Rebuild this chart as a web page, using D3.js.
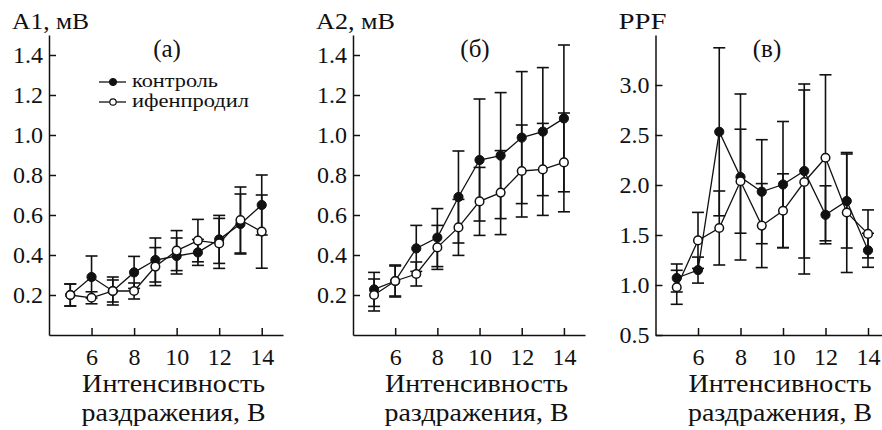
<!DOCTYPE html>
<html>
<head>
<meta charset="utf-8">
<script src="https://cdn.jsdelivr.net/npm/d3@7"></script>
</head>
<body style="margin:0;background:#fff">
<svg id="chart" width="882" height="430" style="display:block"></svg>
<script>
// ---- data ----
const stimulus = [5, 6, 7, 8, 9, 10, 11, 12, 13, 14];
const xTickValues = [6, 8, 10, 12, 14];

const a1Control    = [0.20, 0.29, 0.22, 0.313, 0.375, 0.395, 0.413, 0.478, 0.555, 0.65];
const a1ControlErr = [0.055, 0.105, 0.07, 0.08, 0.11, 0.09, 0.065, 0.12, 0.15, 0.15];
const a1Ifen       = [0.20, 0.186, 0.22, 0.22, 0.342, 0.422, 0.472, 0.458, 0.575, 0.517];
const a1IfenErr    = [0.055, 0.03, 0.055, 0.04, 0.095, 0.1, 0.106, 0.125, 0.165, 0.183];

const a2Control    = [0.228, 0.27, 0.433, 0.487, 0.69, 0.875, 0.897, 0.987, 1.017, 1.083];
const a2ControlErr = [0.085, 0.08, 0.115, 0.145, 0.23, 0.305, 0.315, 0.33, 0.32, 0.367];
const a2Ifen       = [0.20, 0.27, 0.305, 0.438, 0.538, 0.668, 0.712, 0.82, 0.828, 0.863];
const a2IfenErr    = [0.08, 0.075, 0.06, 0.11, 0.14, 0.17, 0.21, 0.23, 0.23, 0.247];

const ppfControl    = [1.07, 1.149, 2.532, 2.08, 1.933, 2.005, 2.14, 1.702, 1.84, 1.347];
const ppfControlErr = [0.14, 0.13, 0.84, 0.83, 0.52, 0.63, 0.87, 0.29, 0.47, 0.17];
const ppfIfen       = [0.977, 1.446, 1.57, 2.038, 1.594, 1.742, 2.03, 2.272, 1.725, 1.511];
const ppfIfenErr    = [0.17, 0.28, 0.37, 0.52, 0.42, 0.37, 0.92, 0.83, 0.6, 0.24];

const amplitudeTicks = [0.2, 0.4, 0.6, 0.8, 1.0, 1.2, 1.4];
const ppfTicks = [0.5, 1.0, 1.5, 2.0, 2.5, 3.0];

const seriesNames = ["контроль", "ифенпродил"];
const xTitleLines = ["Интенсивность", "раздражения, В"];

// ---- layout ----
const SERIF = '"Liberation Serif", Tinos, "Times New Roman", serif';
const svg = d3.select("#chart");
const yTop = 35, yBottom = 335;
const FONT = 24;

function label(g, x, y, txt, size, opts = {}) {
  const t = g.append("text").attr("x", x).attr("y", y)
    .style("font-family", SERIF).style("font-size", size + "px").style("fill", "#111")
    .attr("text-anchor", opts.anchor || "start").text(txt);
  if (opts.len) t.attr("textLength", opts.len).attr("lengthAdjust", "spacingAndGlyphs");
  return t;
}

const panels = [
  { left: 49,  right: 283,    yLabel: "A1, мВ", labelLen: 77, tag: "(а)", tagX: 167, yDomain: [0, 1.5],   yTicks: amplitudeTicks,
    control: a1Control, controlErr: a1ControlErr, ifen: a1Ifen, ifenErr: a1IfenErr, legend: true },
  { left: 353, right: 585,    yLabel: "A2, мВ", labelLen: 79, tag: "(б)", tagX: 475, yDomain: [0, 1.5],   yTicks: amplitudeTicks,
    control: a2Control, controlErr: a2ControlErr, ifen: a2Ifen, ifenErr: a2IfenErr },
  { left: 655.5, right: 889.25, yLabel: "PPF",  labelLen: 48, tag: "(в)", tagX: 767, yDomain: [0.5, 3.5], yTicks: ppfTicks,
    control: ppfControl, controlErr: ppfControlErr, ifen: ppfIfen, ifenErr: ppfIfenErr }
];

panels.forEach(p => {
  const g = svg.append("g");
  const x = d3.scaleLinear().domain([4, 15]).range([p.left, p.right]);
  const y = d3.scaleLinear().domain(p.yDomain).range([yBottom, yTop]);

  // y axis
  const yAxis = d3.axisLeft(y).tickValues(p.yTicks).tickFormat(d3.format(".1f"))
    .tickSizeInner(-7).tickSizeOuter(0).tickPadding(6);
  const ya = g.append("g").attr("transform", `translate(${p.left},0)`).call(yAxis);
  ya.attr("font-family", null).attr("font-size", null);
  ya.selectAll("path, line").attr("stroke", "#111").attr("stroke-width", 1.5);
  ya.selectAll("text").style("font-family", SERIF).style("font-size", FONT + "px").style("fill", "#111");

  // x axis
  const xAxis = d3.axisBottom(x).tickValues(xTickValues).tickFormat(d3.format("d"))
    .tickSizeInner(-7).tickSizeOuter(0).tickPadding(13);
  const xa = g.append("g").attr("transform", `translate(0,${yBottom})`).call(xAxis);
  xa.attr("font-family", null).attr("font-size", null);
  xa.selectAll("path, line").attr("stroke", "#111").attr("stroke-width", 1.5);
  xa.selectAll("text").style("font-family", SERIF).style("font-size", FONT + "px").style("fill", "#111");

  // titles
  label(g, p.left - 37, 29, p.yLabel, 24, { len: p.labelLen });
  label(g, p.tagX, 57, p.tag, 25, { anchor: "middle" });
  const cx = x(10) - 3;
  label(g, cx, 392, xTitleLines[0], 25, { anchor: "middle", len: 183 });
  label(g, cx, 421, xTitleLines[1], 25, { anchor: "middle", len: 184 });

  const line = d3.line().x((d, i) => x(stimulus[i])).y(d => y(d));

  const drawErr = (vals, errs) => {
    const eg = g.append("g").attr("stroke", "#111").attr("stroke-width", 1.6).attr("fill", "none");
    vals.forEach((v, i) => {
      const xi = x(stimulus[i]);
      const lo = y(v - errs[i]), hi = y(v + errs[i]);
      eg.append("line").attr("x1", xi).attr("x2", xi).attr("y1", lo).attr("y2", hi);
      eg.append("line").attr("x1", xi - 6).attr("x2", xi + 6).attr("y1", lo).attr("y2", lo);
      eg.append("line").attr("x1", xi - 6).attr("x2", xi + 6).attr("y1", hi).attr("y2", hi);
    });
  };
  drawErr(p.control, p.controlErr);
  drawErr(p.ifen, p.ifenErr);

  g.append("path").datum(p.control).attr("d", line).attr("fill", "none").attr("stroke", "#111").attr("stroke-width", 1.3);
  g.append("path").datum(p.ifen).attr("d", line).attr("fill", "none").attr("stroke", "#111").attr("stroke-width", 1.3);

  g.selectAll(null).data(p.control).enter().append("circle")
    .attr("cx", (d, i) => x(stimulus[i])).attr("cy", d => y(d)).attr("r", 4.6)
    .attr("fill", "#111").attr("stroke", "#111").attr("stroke-width", 1);
  g.selectAll(null).data(p.ifen).enter().append("circle")
    .attr("cx", (d, i) => x(stimulus[i])).attr("cy", d => y(d)).attr("r", 4.3)
    .attr("fill", "#fff").attr("stroke", "#111").attr("stroke-width", 1.5);

  if (p.legend) {
    const lg = g.append("g");
    const lens = [86, 117];
    [0, 1].forEach(k => {
      const ly = 82 + k * 20;
      lg.append("line").attr("x1", 99).attr("x2", 126).attr("y1", ly).attr("y2", ly)
        .attr("stroke", "#111").attr("stroke-width", 1.3);
      lg.append("circle").attr("cx", 113).attr("cy", ly).attr("r", k === 0 ? 3.6 : 3.2)
        .attr("fill", k === 0 ? "#111" : "#fff").attr("stroke", "#111").attr("stroke-width", k === 0 ? 1 : 1.2);
      label(lg, 132, ly + 5, seriesNames[k], 19, { len: lens[k] });
    });
  }
});
</script>
</body>
</html>
